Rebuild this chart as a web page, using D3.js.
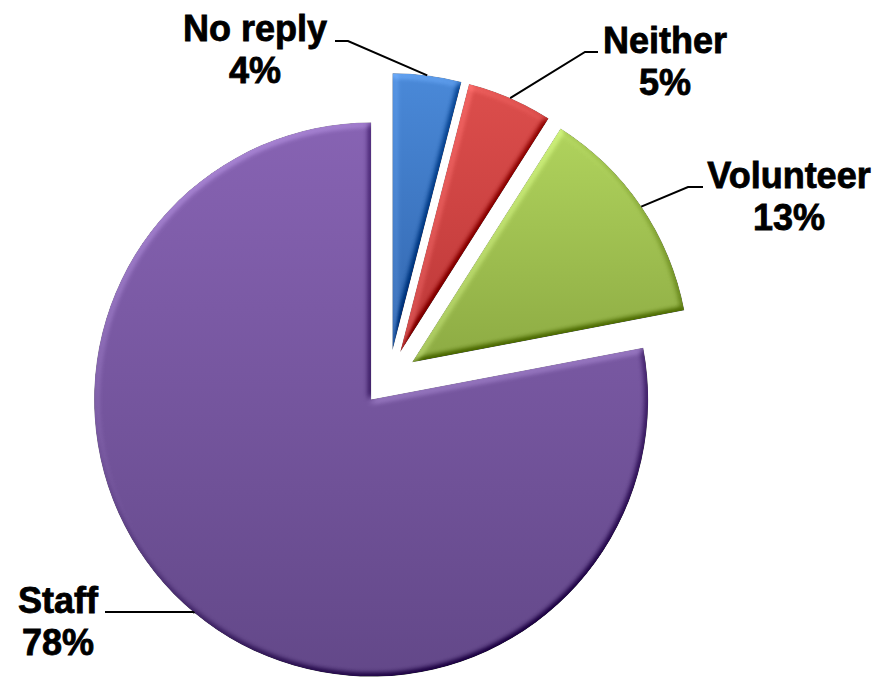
<!DOCTYPE html>
<html>
<head>
<meta charset="utf-8">
<script src="https://cdn.jsdelivr.net/npm/d3@7"></script>
<style>
  html, body { margin: 0; padding: 0; background: #fff; }
  svg { display: block; }
</style>
</head>
<body>
<svg id="chart" width="878" height="677"></svg>
<script>
// Share of respondents by role
const categories = ["No reply", "Neither", "Volunteer", "Staff"];
const shares = [4, 5, 13, 78];
const shareLabels = ["4%", "5%", "13%", "78%"];

// Slice colours: light (top) and dark (bottom) stops of each gradient
const lightColors = ["#4a89d8", "#dc4e4c", "#b0d35d", "#8763b3"];
const darkColors  = ["#3266ae", "#bd3838", "#8dab43", "#634889"];

// Where each label block sits (centre x, first baseline) and its leader elbow
const labelCenters = [[255, 41], [665, 53], [789, 188], [58, 613]];
const leaderElbows = [[348, 41], [585, 52], [688, 187], [193, 612]];
const leaderEnds   = [[335, 41], [598, 52], [703, 187], [105, 612]];

const svg = d3.select("#chart");
const center = [389, 378];
const radius = 277;
const explode = 28;

const defs = svg.append("defs");

categories.forEach((c, i) => {
  const g = defs.append("linearGradient")
    .attr("id", "grad" + i)
    .attr("x1", 0).attr("y1", 0).attr("x2", 0).attr("y2", 1);
  g.append("stop").attr("offset", "0%").attr("stop-color", lightColors[i]);
  g.append("stop").attr("offset", "100%").attr("stop-color", darkColors[i]);
});

// Soft bevel: diffuse lighting of the blurred alpha, added around a neutral level
const f = defs.append("filter").attr("id", "bevel")
  .attr("x", "-5%").attr("y", "-5%").attr("width", "110%").attr("height", "110%")
  .attr("color-interpolation-filters", "sRGB");
f.append("feGaussianBlur").attr("in", "SourceAlpha").attr("stdDeviation", 3).attr("result", "blur");
const light = f.append("feDiffuseLighting").attr("in", "blur")
  .attr("surfaceScale", 4).attr("diffuseConstant", 0.707)
  .attr("lighting-color", "#ffffff").attr("result", "lit");
light.append("feDistantLight").attr("azimuth", 235).attr("elevation", 45);
f.append("feComposite").attr("in", "SourceGraphic").attr("in2", "lit")
  .attr("operator", "arithmetic")
  .attr("k1", 0).attr("k2", 1).attr("k3", 0.6).attr("k4", -0.3)
  .attr("result", "shaded");
f.append("feComposite").attr("in", "shaded").attr("in2", "SourceAlpha").attr("operator", "in");

const pie = d3.pie().sort(null).value(d => d)(shares);
const arc = d3.arc().innerRadius(0).outerRadius(radius);

const root = svg.append("g").attr("transform", `translate(${center[0]},${center[1]})`);

const slices = root.selectAll("g.slice").data(pie).enter().append("g")
  .attr("class", "slice")
  .attr("transform", d => {
    const a = (d.startAngle + d.endAngle) / 2;
    return `translate(${explode * Math.sin(a)},${-explode * Math.cos(a)})`;
  });

slices.append("path")
  .attr("d", arc)
  .attr("fill", (d, i) => `url(#grad${i})`)
  .attr("filter", "url(#bevel)");

// Leader lines: from the middle of each slice's rim to the label
const labels = svg.append("g");
pie.forEach((d, i) => {
  const a = (d.startAngle + d.endAngle) / 2;
  const rimX = center[0] + (explode + radius) * Math.sin(a);
  const rimY = center[1] - (explode + radius) * Math.cos(a);
  const pts = [[rimX, rimY], leaderElbows[i], leaderEnds[i]];
  labels.append("path")
    .attr("d", d3.line()(pts))
    .attr("fill", "none")
    .attr("stroke", "#000")
    .attr("stroke-width", 2);

  const t = labels.append("text")
    .attr("x", labelCenters[i][0])
    .attr("y", labelCenters[i][1])
    .attr("text-anchor", "middle")
    .attr("font-family", "'Liberation Sans', Arial, sans-serif")
    .attr("font-weight", "bold")
    .attr("font-size", 36)
    .attr("fill", "#000")
    .attr("stroke", "#000")
    .attr("stroke-width", 0.8);
  t.append("tspan").attr("x", labelCenters[i][0]).text(categories[i]);
  t.append("tspan").attr("x", labelCenters[i][0]).attr("dy", 42).text(shareLabels[i]);
});
</script>
</body>
</html>
